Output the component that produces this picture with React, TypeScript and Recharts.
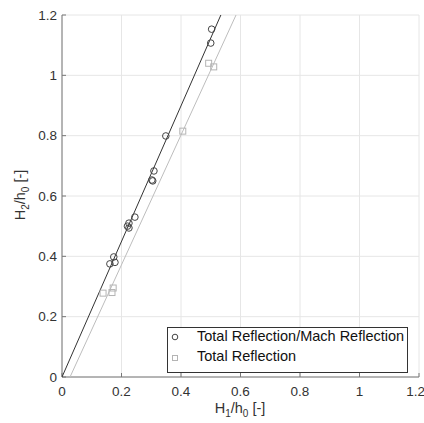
import { ScatterChart, Scatter, XAxis, YAxis, CartesianGrid } from 'recharts';

// Total Reflection/Mach Reflection (circles)
const machX = [0.503, 0.5, 0.349, 0.309, 0.302, 0.305, 0.245, 0.225, 0.225, 0.22, 0.174, 0.161, 0.178];
const machY = [1.153, 1.107, 0.799, 0.683, 0.653, 0.65, 0.53, 0.51, 0.494, 0.5, 0.398, 0.375, 0.38];

// Total Reflection (squares)
const totalX = [0.493, 0.51, 0.406, 0.172, 0.168, 0.138];
const totalY = [1.04, 1.028, 0.815, 0.295, 0.28, 0.278];

// fit lines, end points
const machFitX = [0.0, 0.534];
const machFitY = [0.0, 1.2];
const totalFitX = [0.027, 0.585];
const totalFitY = [0.0, 1.2];

const ticks = [0, 0.2, 0.4, 0.6, 0.8, 1, 1.2];
const tickLabels = ['0', '0.2', '0.4', '0.6', '0.8', '1', '1.2'];

const legendNames = ['Total Reflection/Mach Reflection', 'Total Reflection'];

const toPts = (xs: number[], ys: number[]) => xs.map((x, i) => ({ x, y: ys[i] }));

const machData = toPts(machX, machY);
const totalData = toPts(totalX, totalY);
const machFit = toPts(machFitX, machFitY);
const totalFit = toPts(totalFitX, totalFitY);

const FONT = 'Arial, "Liberation Sans", sans-serif';
const DARK = '#444444';
const LIGHT = '#b4b4b4';

const Circle = (props: any) => (
  <circle cx={props.cx} cy={props.cy} r={3.3} fill="none" stroke={DARK} strokeWidth={1} />
);
const Square = (props: any) => (
  <rect x={props.cx - 3} y={props.cy - 3} width={6} height={6} fill="none" stroke={LIGHT} strokeWidth={1} />
);
const NoDot = () => null;

const fmt = (v: number) => tickLabels[ticks.indexOf(v)] ?? String(v);

function LegendBox() {
  return (
    <div
      style={{
        position: 'absolute',
        left: 167,
        top: 327,
        width: 239,
        height: 44,
        border: '1px solid #333',
        background: '#fff',
        fontFamily: FONT,
        fontSize: 14.5,
        color: '#111',
      }}
    >
      <svg width={16} height={44} style={{ position: 'absolute', left: 0, top: 0 }}>
        <circle cx={7} cy={9} r={2.8} fill="none" stroke={DARK} />
        <rect x={4.5} y={27.5} width={5} height={5} fill="none" stroke={LIGHT} />
      </svg>
      <div style={{ position: 'absolute', left: 29, top: 0, whiteSpace: 'nowrap' }}>{legendNames[0]}</div>
      <div style={{ position: 'absolute', left: 29, top: 20, whiteSpace: 'nowrap' }}>{legendNames[1]}</div>
    </div>
  );
}

export default function App() {
  return (
    <div style={{ position: 'absolute', left: 0, top: 0, width: 424, height: 423, background: '#fff' }}>
      <ScatterChart width={424} height={423} margin={{ top: 15, right: 5, bottom: 0, left: 0 }}>
        <CartesianGrid stroke="#e6e6e6" strokeWidth={1} />
        <XAxis
          type="number"
          dataKey="x"
          domain={[0, 1.2]}
          ticks={ticks}
          tickFormatter={fmt}
          height={46}
          stroke="#777"
          tickSize={-4}
          tickMargin={13}
          tick={{ fill: '#333', fontSize: 13.5, fontFamily: FONT }}
          allowDataOverflow
        />
        <XAxis
          xAxisId="top"
          orientation="top"
          type="number"
          domain={[0, 1.2]}
          ticks={ticks}
          height={0}
          stroke="#777"
          tickSize={-4}
          tick={false}
        />
        <YAxis
          type="number"
          dataKey="y"
          domain={[0, 1.2]}
          ticks={ticks}
          tickFormatter={fmt}
          width={62}
          stroke="#777"
          tickSize={-4}
          tickMargin={9}
          tick={{ fill: '#333', fontSize: 13.5, fontFamily: FONT }}
          allowDataOverflow
        />
        <YAxis
          yAxisId="right"
          orientation="right"
          type="number"
          domain={[0, 1.2]}
          ticks={ticks}
          width={0}
          stroke="#777"
          tickSize={-4}
          tick={false}
        />
        <Scatter data={machFit} line={{ stroke: '#333', strokeWidth: 1 }} shape={NoDot} isAnimationActive={false} legendType="none" />
        <Scatter data={totalFit} line={{ stroke: '#bdbdbd', strokeWidth: 1 }} shape={NoDot} isAnimationActive={false} legendType="none" />
        <Scatter data={machData} shape={Circle} isAnimationActive={false} />
        <Scatter data={totalData} shape={Square} isAnimationActive={false} />
        <text x={240} y={413} textAnchor="middle" fontFamily={FONT} fontSize={14.5} fill="#333">
          H<tspan dy={4} fontSize={10}>1</tspan>
          <tspan dy={-4}>/h</tspan>
          <tspan dy={4} fontSize={10}>0</tspan>
          <tspan dy={-4}> [-]</tspan>
        </text>
        <text
          x={0}
          y={0}
          transform="translate(25,195) rotate(-90)"
          textAnchor="middle"
          fontFamily={FONT}
          fontSize={14.5}
          fill="#333"
        >
          H<tspan dy={4} fontSize={10}>2</tspan>
          <tspan dy={-4}>/h</tspan>
          <tspan dy={4} fontSize={10}>0</tspan>
          <tspan dy={-4}> [-]</tspan>
        </text>
      </ScatterChart>
      <LegendBox />
    </div>
  );
}
